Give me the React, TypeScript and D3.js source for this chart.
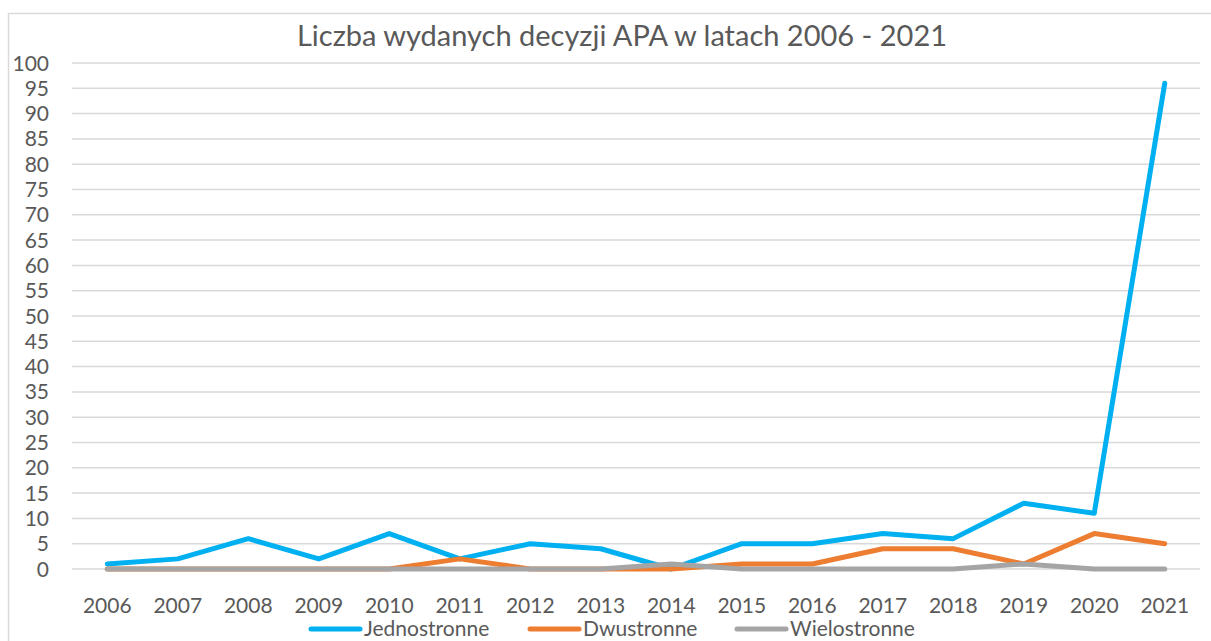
import React, { useEffect, useRef } from "react";
import * as d3 from "d3";

const years = ["2006", "2007", "2008", "2009", "2010", "2011", "2012", "2013", "2014", "2015", "2016", "2017", "2018", "2019", "2020", "2021"];
const jednostronne = [1, 2, 6, 2, 7, 2, 5, 4, 0, 5, 5, 7, 6, 13, 11, 96];
const dwustronne = [0, 0, 0, 0, 0, 2, 0, 0, 0, 1, 1, 4, 4, 1, 7, 5];
const wielostronne = [0, 0, 0, 0, 0, 0, 0, 0, 1, 0, 0, 0, 0, 1, 0, 0];
const yTicks = d3.range(0, 101, 5);

const series = [
  { name: "Jednostronne", values: jednostronne, color: "#00B0F0" },
  { name: "Dwustronne", values: dwustronne, color: "#ED7D31" },
  { name: "Wielostronne", values: wielostronne, color: "#A5A5A5" },
];

const App = () => {
  const svg = useRef<SVGSVGElement>(null);

  useEffect(() => {
    const width = 1211;
    const height = 641;
    const margin = { top: 63, right: 11, bottom: 72, left: 72 };
    const font = "Lato, 'Open Sans', sans-serif";
    const textColor = "#595959";

    const root = d3.select(svg.current);
    root.selectAll("*").remove();

    // chart frame
    root
      .append("rect")
      .attr("x", 8.5)
      .attr("y", 13.5)
      .attr("width", width)
      .attr("height", height)
      .attr("fill", "white")
      .attr("stroke", "#d9d9d9")
      .attr("stroke-width", 1.5);

    root
      .append("text")
      .attr("x", 622)
      .attr("y", 46)
      .attr("text-anchor", "middle")
      .attr("font-family", font)
      .attr("font-size", 29)
      .attr("fill", textColor)
      .text("Liczba wydanych decyzji APA w latach 2006 - 2021");

    const x = d3
      .scalePoint()
      .domain(years)
      .range([margin.left, width - margin.right])
      .padding(0.5);

    const y = d3
      .scaleLinear()
      .domain([0, 100])
      .range([height - margin.bottom, margin.top]);

    // gridlines
    root
      .append("g")
      .selectAll("line")
      .data(yTicks)
      .join("line")
      .attr("x1", margin.left)
      .attr("x2", width - margin.right)
      .attr("y1", (d) => y(d))
      .attr("y2", (d) => y(d))
      .attr("stroke", "#d9d9d9")
      .attr("stroke-width", 1.5);

    // y labels
    root
      .append("g")
      .selectAll("text")
      .data(yTicks)
      .join("text")
      .attr("x", 49)
      .attr("y", (d) => y(d))
      .attr("dy", "0.36em")
      .attr("text-anchor", "end")
      .attr("font-family", font)
      .attr("font-size", 21)
      .attr("fill", textColor)
      .text((d) => d);

    // x labels
    root
      .append("g")
      .selectAll("text")
      .data(years)
      .join("text")
      .attr("x", (d) => x(d)!)
      .attr("y", 613)
      .attr("text-anchor", "middle")
      .attr("font-family", font)
      .attr("font-size", 21)
      .attr("fill", textColor)
      .text((d) => d);

    const line = d3
      .line<number>()
      .x((d, i) => x(years[i])!)
      .y((d) => y(d));

    root
      .append("g")
      .selectAll("path")
      .data(series)
      .join("path")
      .attr("fill", "none")
      .attr("stroke", (d) => d.color)
      .attr("stroke-width", 5)
      .attr("stroke-linejoin", "round")
      .attr("stroke-linecap", "round")
      .attr("d", (d) => line(d.values));

    // legend
    const legendX = [309, 528, 735];
    const legend = root
      .append("g")
      .selectAll("g")
      .data(series)
      .join("g")
      .attr("transform", (d, i) => `translate(${legendX[i]}, 629)`);
    legend
      .append("line")
      .attr("x1", 2)
      .attr("x2", 51)
      .attr("stroke", (d) => d.color)
      .attr("stroke-width", 5)
      .attr("stroke-linecap", "round");
    legend
      .append("text")
      .attr("x", 55)
      .attr("dy", "0.33em")
      .attr("font-family", font)
      .attr("font-size", 21)
      .attr("fill", textColor)
      .text((d) => d.name);
  }, []);

  return (
    <svg
      ref={svg}
      width={1211}
      height={641}
      style={{ position: "absolute", left: 0, top: 0 }}
    />
  );
};

export default App;
